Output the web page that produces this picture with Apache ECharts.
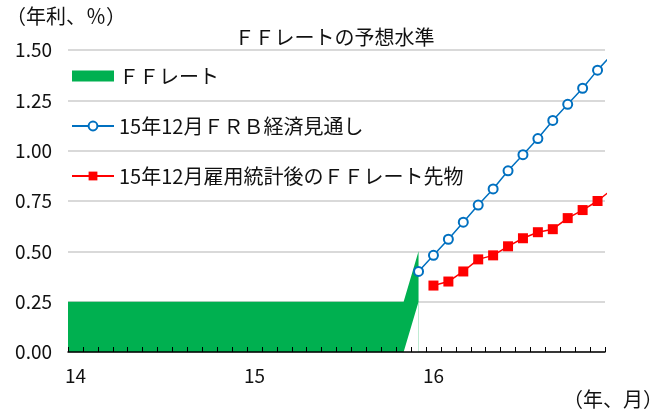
<!DOCTYPE html>
<html>
<head>
<meta charset="utf-8">
<script src="https://cdn.jsdelivr.net/npm/echarts@6/dist/echarts.min.js"></script>
<style>
html,body{margin:0;padding:0;background:#fff}
#chart{width:669px;height:412px}
</style>
</head>
<body>
<div id="chart"></div>
<script>
var FONT = '"Noto Sans CJK JP", "Noto Sans", sans-serif';

// 年ラベル（1月のカテゴリに表示）
var yearLabels = ['14', '15', '16'];

// ＦＦレート（誘導目標レンジ）月次 2013/12〜2015/12
var ffStart = '2013-12';
var ffUpper = [0.25, 0.25, 0.25, 0.25, 0.25, 0.25, 0.25, 0.25, 0.25, 0.25, 0.25, 0.25,
               0.25, 0.25, 0.25, 0.25, 0.25, 0.25, 0.25, 0.25, 0.25, 0.25, 0.25, 0.25, 0.50];
var ffLower = [0, 0, 0, 0, 0, 0, 0, 0, 0, 0, 0, 0,
               0, 0, 0, 0, 0, 0, 0, 0, 0, 0, 0, 0, 0.25];

// 15年12月ＦＲＢ経済見通し 2015/12〜2017/1
var frbStart = '2015-12';
var frbPath = [0.40, 0.48, 0.56, 0.645, 0.73, 0.81, 0.90, 0.98, 1.06, 1.15, 1.23, 1.31, 1.40, 1.48];

// 15年12月雇用統計後のＦＦレート先物 2016/1〜2017/1
var futStart = '2016-01';
var futures = [0.33, 0.35, 0.40, 0.46, 0.48, 0.525, 0.565, 0.595, 0.61, 0.665, 0.705, 0.75, 0.81];

var names = ['ＦＦレート', '15年12月ＦＲＢ経済見通し', '15年12月雇用統計後のＦＦレート先物'];

// 月カテゴリ 2014/1〜2016/12
var months = [];
yearLabels.forEach(function (y) {
    for (var m = 1; m <= 12; m++) months.push(y + '/' + m);
});

// 月 → 横軸位置（カテゴリ中央）
function toX(ym) {
    var p = ym.split('-');
    return (Number(p[0]) - 2014) * 12 + (Number(p[1]) - 1) + 0.5;
}
function pairs(start, arr) {
    var x0 = toX(start);
    return arr.map(function (v, i) { return [x0 + i, v]; });
}

var chart = echarts.init(document.getElementById('chart'));
var option = {
    animation: false,
    backgroundColor: '#fff',
    title: {
        text: 'ＦＦレートの予想水準',
        left: 'center',
        top: 22,
        textStyle: {fontFamily: FONT, fontSize: 20, fontWeight: 'normal', color: '#111'}
    },
    graphic: [
        {type: 'text', left: 6, top: 6,
         style: {text: '（年利、％）', font: '20px ' + FONT, fill: '#111'}},
        {type: 'text', right: 6, top: 389,
         style: {text: '（年、月）', font: '20px ' + FONT, fill: '#111'}}
    ],
    legend: {
        orient: 'vertical',
        left: 66,
        top: 60,
        itemWidth: 42,
        itemHeight: 11,
        itemGap: 28,
        textStyle: {fontFamily: FONT, fontSize: 20, color: '#111', lineHeight: 22},
        data: [
            {name: names[0], icon: 'rect'},
            {name: names[1]},
            {name: names[2]}
        ]
    },
    grid: {left: 68, right: 64, top: 50, bottom: 60},
    xAxis: [
        {
            type: 'category',
            data: months,
            boundaryGap: true,
            axisLine: {show: false},
            axisTick: {show: false},
            axisLabel: {
                interval: function (i) { return i % 12 === 0; },
                formatter: function (v) { return v.split('/')[0]; },
                margin: 14,
                fontFamily: FONT, fontSize: 19, color: '#111'
            },
            splitLine: {show: false}
        },
        {
            type: 'value',
            position: 'bottom',
            min: 0,
            max: 36,
            interval: 1,
            axisLine: {show: true, lineStyle: {color: '#000', width: 1.5}},
            axisTick: {show: true, inside: true, length: 5, lineStyle: {color: '#000', width: 1}},
            axisLabel: {show: false},
            splitLine: {show: false},
            z: 10
        }
    ],
    yAxis: {
        type: 'value',
        min: 0,
        max: 1.5,
        interval: 0.25,
        axisLine: {show: false},
        axisTick: {show: false},
        axisLabel: {
            formatter: function (v) { return v.toFixed(2); },
            margin: 16,
            fontFamily: FONT, fontSize: 19, color: '#111'
        },
        splitLine: {lineStyle: {color: '#d9d9d9', width: 2}}
    },
    series: [
        {
            name: names[0],
            type: 'line',
            xAxisIndex: 1,
            data: pairs(ffStart, ffUpper),
            showSymbol: false,
            lineStyle: {width: 0},
            itemStyle: {color: '#00b050'},
            areaStyle: {color: '#00b050', opacity: 1},
            z: 1
        },
        {
            name: 'ffLower',
            type: 'line',
            xAxisIndex: 1,
            data: pairs(ffStart, ffLower),
            showSymbol: false,
            lineStyle: {width: 0},
            areaStyle: {color: '#fff', opacity: 1},
            z: 2,
            silent: true
        },
        {
            name: names[1],
            type: 'line',
            xAxisIndex: 1,
            data: pairs(frbStart, frbPath),
            symbol: 'emptyCircle',
            symbolSize: 9,
            lineStyle: {color: '#0070c0', width: 1.5},
            itemStyle: {color: '#0070c0', borderWidth: 1.5},
            z: 3
        },
        {
            name: names[2],
            type: 'line',
            xAxisIndex: 1,
            data: pairs(futStart, futures),
            symbol: 'rect',
            symbolSize: 10,
            lineStyle: {color: '#ff0000', width: 1.5},
            itemStyle: {color: '#ff0000'},
            z: 3
        }
    ]
};
chart.setOption(option);
</script>
</body>
</html>
